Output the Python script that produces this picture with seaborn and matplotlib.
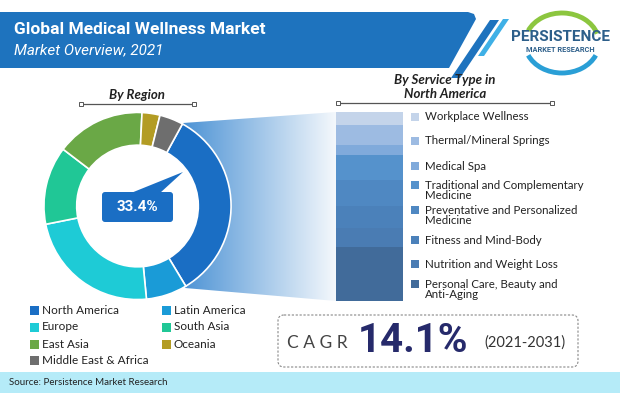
import numpy as np
import matplotlib
matplotlib.use('Agg')
import matplotlib.pyplot as plt
import seaborn as sns
from matplotlib.patches import Polygon, Rectangle, FancyBboxPatch, Arc, Circle

# Datos
regiones = ['North America', 'Latin America', 'Europe', 'South Asia',
            'East Asia', 'Oceania', 'Middle East & Africa']
cuota_region = [33.4, 7.1, 23.4, 13.5, 15.4, 3.1, 4.1]
colores_region = ['#1a6ec4', '#1a9bd7', '#1ecbd6', '#20c796',
                  '#6aa846', '#b39c24', '#6e6e6e']

servicios = ['Personal Care, Beauty and\nAnti-Aging', 'Nutrition and Weight Loss',
             'Fitness and Mind-Body', 'Preventative and Personalized\nMedicine',
             'Traditional and Complementary\nMedicine', 'Medical Spa',
             'Thermal/Mineral Springs', 'Workplace Wellness']
cuota_servicio = [28.6, 10.1, 11.6, 13.8, 13.2, 5.3, 10.6, 6.9]
colores_servicio = ['#416b9a', '#4a7cb3', '#4b81ba', '#4f88c2',
                    '#5592cc', '#80aadb', '#9dbbe2', '#c4d4ea']

cagr = '14.1%'
periodo = '(2021-2031)'
nota_na = '33.4%'

sns.set_theme(style='white')
plt.rcParams['font.family'] = ['Lato', 'DejaVu Sans']

W, H = 620, 393
fig = plt.figure(figsize=(6.2, 3.93), dpi=100)
bg = fig.add_axes([0, 0, 1, 1])
bg.set_xlim(0, W)
bg.set_ylim(H, 0)
bg.axis('off')


def caja(x0, y0, x1, y1):
    # pixeles -> fraccion de figura
    return [x0 / W, 1 - y1 / H, (x1 - x0) / W, (y1 - y0) / H]


# Cabecera
bg.add_patch(Polygon([(0, 12), (468, 12), (474, 14), (476, 19), (449, 68), (0, 68)],
                     closed=True, color='#1e73be', lw=0))
bg.add_patch(Polygon([(490, 20), (499, 20), (460, 78), (451, 78)],
                     closed=True, color='#1e73be', lw=0))
bg.add_patch(Polygon([(503, 19), (509, 19), (484, 56), (478, 56)],
                     closed=True, color='#3fb0e6', lw=0))
bg.text(14, 29, 'Global Medical Wellness Market', color='white', fontsize=12.5,
        fontweight='bold', family=['Roboto', 'DejaVu Sans'], va='center')
bg.text(14, 50, 'Market Overview, 2021', color='white', fontsize=11,
        style='italic', family=['Roboto', 'DejaVu Sans'], va='center')

# Logo
bg.add_patch(Arc((562, 43), 74, 60, theta1=200, theta2=345, color='#8cc63f', lw=3.5))
bg.add_patch(Arc((562, 43), 74, 60, theta1=20, theta2=160, color='#2a9fd6', lw=3.5))
bg.text(560, 37, 'PERSISTENCE', color='#2d5f8a', fontsize=11, fontweight='bold',
        family=['Roboto', 'DejaVu Sans'], ha='center', va='center')
bg.text(560, 50, 'MARKET RESEARCH', color='#2d5f8a', fontsize=5.3, fontweight='bold',
        family=['Roboto', 'DejaVu Sans'], ha='center', va='center')

# Titulos de seccion
bg.text(137, 95, 'By Region', fontsize=9.5, fontweight='bold', style='italic',
        ha='center', va='center', color='#222222')
bg.plot([81, 194], [104, 104], color='#555555', lw=0.9)
bg.plot([81, 194], [104, 104], ls='none', marker='s', ms=3, mfc='white', mec='#555555', mew=0.7)
bg.text(445, 87, 'By Service Type in\nNorth America', fontsize=9.5, fontweight='bold',
        style='italic', ha='center', va='center', color='#222222', linespacing=1.2)
bg.plot([338, 552], [103, 103], color='#555555', lw=0.9)
bg.plot([338, 552], [103, 103], ls='none', marker='s', ms=3, mfc='white', mec='#555555', mew=0.7)

# Embudo con degradado
embudo = Polygon([(183, 123), (336, 112), (336, 301), (185, 288)], closed=True,
                 facecolor='none', edgecolor='none')
bg.add_patch(embudo)
grad = np.linspace(0, 1, 256)[None, :]
cmap = matplotlib.colors.LinearSegmentedColormap.from_list('f', ['#4d93d5', '#f4f8fc'])
im = bg.imshow(grad, cmap=cmap, extent=(183, 336, 301, 112), aspect='auto', zorder=1)
im.set_clip_path(embudo)
bg.set_xlim(0, W)
bg.set_ylim(H, 0)

# Donut
ax_d = fig.add_axes(caja(43, 111.5, 232, 300.5))
ax_d.add_patch(Circle((0, 0), 0.66, color='white', zorder=0))
ax_d.pie(cuota_region, colors=colores_region, startangle=61.3, counterclock=False,
         radius=1, wedgeprops=dict(width=0.35, edgecolor='white', linewidth=1.2))
ax_d.set_xlim(-1.01, 1.01)
ax_d.set_ylim(-1.01, 1.01)
ax_d.set_facecolor('none')

# Capa superior para la etiqueta del donut
ov = fig.add_axes([0, 0, 1, 1])
ov.set_xlim(0, W)
ov.set_ylim(H, 0)
ov.axis('off')
ov.patch.set_alpha(0)
ov.add_patch(Polygon([(131, 193), (160, 193), (183, 172)], closed=True,
                     color='#1a6ec4', lw=0))
ov.add_patch(FancyBboxPatch((102, 192), 71, 30, boxstyle='round,pad=0,rounding_size=3',
                            color='#1a6ec4', lw=0))
ov.text(137.5, 207, nota_na, color='white', fontsize=11, fontweight='bold',
        family=['Roboto', 'DejaVu Sans'], ha='center', va='center')

# Barra apilada (seaborn, acumulados de arriba a abajo)
ax_b = fig.add_axes(caja(336, 112, 403, 301))
acum = np.cumsum(cuota_servicio)
for i in range(len(acum) - 1, -1, -1):
    sns.barplot(x=['NA'], y=[acum[i]], color=colores_servicio[i], width=1,
                saturation=1, ax=ax_b, linewidth=0)
ax_b.set_xlim(-0.5, 0.5)
ax_b.set_ylim(0, acum[-1])
ax_b.axis('off')

# Leyenda de servicios
y_leyenda = [289.5, 264, 240, 215.5, 190.5, 166, 141, 116.7]
for nombre, c, y in zip(servicios, colores_servicio, y_leyenda):
    bg.add_patch(Rectangle((411, y - 4 if '\n' not in nombre else y - 9.5), 8, 8,
                           color=c, lw=0))
    bg.text(425, y, nombre, fontsize=8.3, va='center', color='#222222', linespacing=0.95)

# Leyenda de regiones
orden = [0, 2, 4, 6, 1, 3, 5]
pos = [(30, 310), (30, 327), (30, 344), (30, 360), (162, 310), (162, 327), (162, 344)]
for k, (x, y) in zip(orden, pos):
    bg.add_patch(Rectangle((x, y - 4.5), 9, 9, color=colores_region[k], lw=0))
    bg.text(x + 12, y, regiones[k], fontsize=8.5, va='center', color='#222222')

# CAGR
bg.add_patch(FancyBboxPatch((278, 315), 300, 52, boxstyle='round,pad=0,rounding_size=6',
                            facecolor='white', edgecolor='#888888', lw=0.8, ls=(0, (2, 1.5))))
bg.text(287, 343, 'C A G R', fontsize=12.5, color='#444444', va='center',
        family=['Lato', 'DejaVu Sans'])
bg.text(358, 341, cagr, fontsize=29, fontweight='bold', color='#262a6b', va='center',
        family=['Roboto', 'DejaVu Sans'])
bg.text(484, 343, periodo, fontsize=10.5, color='#333333', va='center')

# Fuente
bg.add_patch(Rectangle((0, 372), W, 21, color='#b5ebf8', lw=0))
bg.text(9, 382.5, 'Source: Persistence Market Research', fontsize=7, va='center',
        color='#222222')

fig.savefig('out.png', dpi=100)
